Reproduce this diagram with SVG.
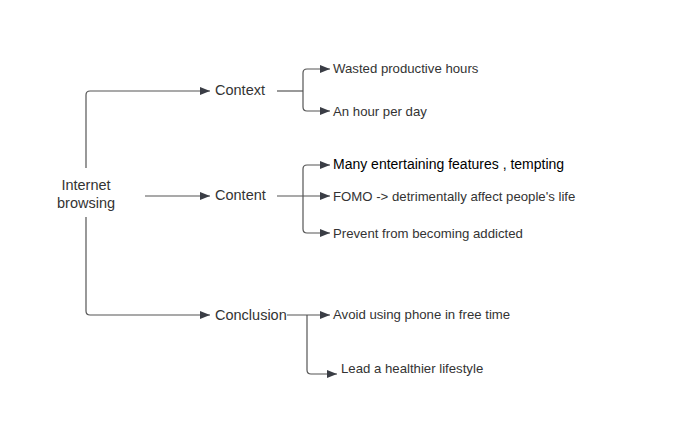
<svg xmlns="http://www.w3.org/2000/svg" width="700" height="423" viewBox="0 0 700 423">
<style>
.main{font-family:"Liberation Sans",Arial,sans-serif;font-size:14.5px;fill:#333}
.leaf{font-family:"Liberation Sans",Arial,sans-serif;font-size:13.2px;fill:#333}
.hi{font-family:"Liberation Sans",Arial,sans-serif;font-size:14px;fill:#000}
.c{fill:none;stroke:#555;stroke-width:1.2}
</style>
<defs>
<marker id="ah" viewBox="0 0 10 8" refX="10" refY="4" markerWidth="10" markerHeight="8" markerUnits="userSpaceOnUse" orient="auto">
<path d="M0,0 L10,4 L0,8 Z" fill="#3a3d45"/>
</marker>
</defs>
<rect width="700" height="423" fill="#fff"/>
<g id="connectors">
<path class="c" d="M86,168 V95 Q86,91 90,91 H210" marker-end="url(#ah)"/>
<path class="c" d="M86,217 V311 Q86,315 90,315 H210" marker-end="url(#ah)"/>
<path class="c" d="M145,196 H210" marker-end="url(#ah)"/>
<path class="c" d="M277,91 H303"/>
<path class="c" d="M303,91 V73 Q303,69 307,69 H330" marker-end="url(#ah)"/>
<path class="c" d="M303,91 V107 Q303,111 307,111 H330" marker-end="url(#ah)"/>
<path class="c" d="M277,196 H330" marker-end="url(#ah)"/>
<path class="c" d="M303,196 V169 Q303,165 307,165 H330" marker-end="url(#ah)"/>
<path class="c" d="M303,196 V229 Q303,233 307,233 H330" marker-end="url(#ah)"/>
<path class="c" d="M287,315 H330" marker-end="url(#ah)"/>
<path class="c" d="M307,315 V370 Q307,374 311,374 H337" marker-end="url(#ah)"/>
</g>
<g id="internet-browsing"><text class="main" x="86" y="190" text-anchor="middle">Internet</text><text class="main" x="86" y="208" text-anchor="middle">browsing</text></g>
<g id="context"><text class="main" x="215" y="95">Context</text></g>
<g id="content"><text class="main" x="215" y="200">Content</text></g>
<g id="conclusion"><text class="main" x="215" y="320">Conclusion</text></g>
<g id="wasted"><text class="leaf" x="333" y="73">Wasted productive hours</text></g>
<g id="hour"><text class="leaf" x="333" y="116">An hour per day</text></g>
<g id="many"><text class="hi" x="333" y="169">Many entertaining features , tempting</text></g>
<g id="fomo"><text class="leaf" x="333" y="201">FOMO -&gt; detrimentally affect people's life</text></g>
<g id="prevent"><text class="leaf" x="333" y="238">Prevent from becoming addicted</text></g>
<g id="avoid"><text class="leaf" x="333" y="319">Avoid using phone in free time</text></g>
<g id="lead"><text class="leaf" x="341" y="373">Lead a healthier lifestyle</text></g>
</svg>
